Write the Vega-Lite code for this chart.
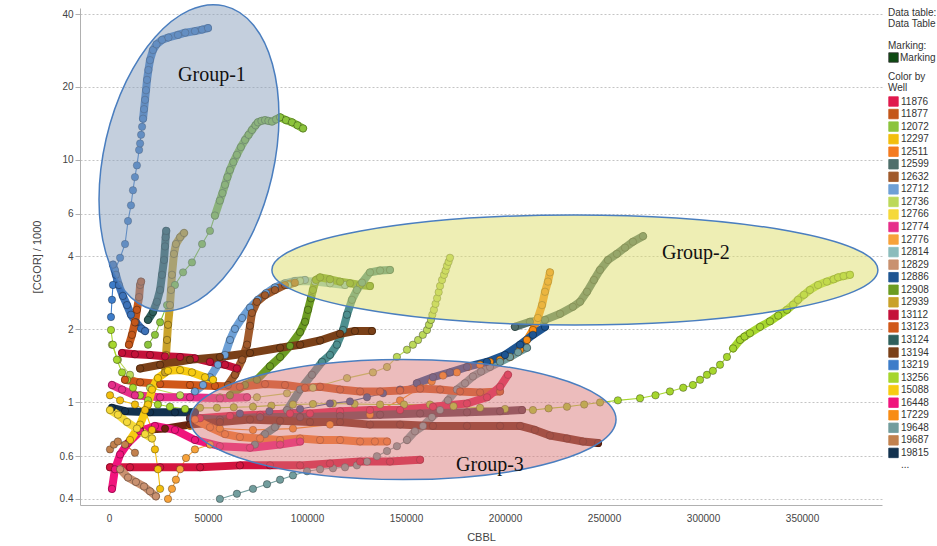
{
"$schema": "https://vega.github.io/schema/vega-lite/v6.json",
"width": 802, "height": 497,
"autosize": {"type": "none"},
"padding": {"left": 80, "top": 8, "right": 55, "bottom": 41},
"background": "white",
"config": {
 "view": {"stroke": null},
 "axis": {"labelFont": "Liberation Sans", "titleFont": "Liberation Sans", "labelFontSize": 10, "titleFontSize": 11, "titleFontWeight": "normal", "labelColor": "#444", "titleColor": "#444", "domainColor": "#b0b0b0"},
 "legend": {"labelFont": "Liberation Sans", "titleFont": "Liberation Sans", "labelFontSize": 10, "titleFontSize": 10, "titleFontWeight": "normal", "titleColor": "#333", "labelColor": "#333", "titleLineHeight": 11, "symbolType": "square", "symbolSize": 90, "symbolStrokeColor": "#333", "symbolStrokeWidth": 0.8, "symbolOpacity": 1, "rowPadding": -0.45, "offset": 6, "padding": 0, "titlePadding": 3, "labelOffset": 2}
},
"datasets": {
 "groups": [
  {"g": "Group-1", "k": "e", "x": 40400, "y": 10.2},
  {"g": "Group-2", "k": "e", "x": 235300, "y": 3.52},
  {"g": "Group-3", "k": "e", "x": 148500, "y": 0.85},
  {"g": "Group-1", "k": "t", "x": 52000, "y": 22.4},
  {"g": "Group-2", "k": "t", "x": 296400, "y": 4.13},
  {"g": "Group-3", "k": "t", "x": 192400, "y": 0.55}
 ],
 "wells": [
  {"w":"13219","x":1000,"y":2.25},{"w":"13219","x":1500,"y":2.65},{"w":"13219","x":2000,"y":3.05},{"w":"13219","x":3000,"y":3.52},{"w":"13219","x":5600,"y":3.95},{"w":"13219","x":8100,"y":4.5},{"w":"13219","x":9600,"y":5.6},{"w":"13219","x":11100,"y":6.5},{"w":"13219","x":12100,"y":7.5},{"w":"13219","x":13100,"y":8.5},{"w":"13219","x":14100,"y":9.5},{"w":"13219","x":15200,"y":11.0},{"w":"13219","x":15700,"y":11.7},{"w":"13219","x":16200,"y":12.7},{"w":"13219","x":16700,"y":13.7},{"w":"13219","x":17200,"y":14.8},{"w":"13219","x":17700,"y":16.2},{"w":"13219","x":18200,"y":17.7},{"w":"13219","x":18700,"y":19.4},{"w":"13219","x":19200,"y":21.4},{"w":"13219","x":19900,"y":23.5},{"w":"13219","x":20700,"y":25.8},{"w":"13219","x":22200,"y":28.4},{"w":"13219","x":24000,"y":30},{"w":"13219","x":26800,"y":31.3},{"w":"13219","x":30000,"y":32},{"w":"13219","x":34800,"y":32.8},{"w":"13219","x":38500,"y":33.5},{"w":"13219","x":43400,"y":34},{"w":"13219","x":47000,"y":34.5},{"w":"13219","x":50000,"y":35},
  {"w":"20640","x":2000,"y":3.7},{"w":"20640","x":3500,"y":3.36},{"w":"20640","x":5000,"y":3.05},{"w":"20640","x":7000,"y":2.75},{"w":"20640","x":9100,"y":2.52},{"w":"20640","x":11100,"y":2.3},{"w":"20640","x":13600,"y":2.14},{"w":"20640","x":16200,"y":2.02},{"w":"20640","x":18200,"y":1.97},
  {"w":"12072","x":19700,"y":1.73},{"w":"12072","x":23200,"y":1.9},{"w":"12072","x":25800,"y":2.14},{"w":"12072","x":29300,"y":2.52},{"w":"12072","x":33300,"y":3.05},{"w":"12072","x":37400,"y":3.44},{"w":"12072","x":41900,"y":3.78},{"w":"12072","x":47000,"y":4.5},{"w":"12072","x":51000,"y":5.1},{"w":"12072","x":53500,"y":5.9},{"w":"12072","x":56000,"y":6.8},{"w":"12072","x":57300,"y":7.3},{"w":"12072","x":58600,"y":7.9},{"w":"12072","x":59800,"y":8.5},{"w":"12072","x":61100,"y":9.1},{"w":"12072","x":62800,"y":9.8},{"w":"12072","x":64600,"y":10.5},{"w":"12072","x":66600,"y":11.3},{"w":"12072","x":68700,"y":12.1},{"w":"12072","x":70500,"y":12.7},{"w":"12072","x":72200,"y":13.3},{"w":"12072","x":74000,"y":13.9},{"w":"12072","x":75200,"y":14.3},{"w":"12072","x":77000,"y":14.5},{"w":"12072","x":78800,"y":14.6},{"w":"12072","x":80500,"y":14.5},{"w":"12072","x":82300,"y":14.4},{"w":"12072","x":84400,"y":14.7},{"w":"12072","x":86400,"y":15.0},{"w":"12072","x":89400,"y":14.6},{"w":"12072","x":92400,"y":14.3},{"w":"12072","x":95200,"y":13.9},{"w":"12072","x":98000,"y":13.5},
  {"w":"13124","x":19700,"y":2.19},{"w":"13124","x":22200,"y":2.36},{"w":"13124","x":24200,"y":2.6},{"w":"13124","x":25800,"y":2.91},{"w":"13124","x":26800,"y":3.36},{"w":"13124","x":27800,"y":3.87},{"w":"13124","x":28300,"y":4.4},{"w":"13124","x":28600,"y":4.8},{"w":"13124","x":28900,"y":5.1},
  {"w":"12939","x":28300,"y":1.33},{"w":"12939","x":28800,"y":1.57},{"w":"12939","x":29300,"y":1.81},{"w":"12939","x":29800,"y":2.09},{"w":"12939","x":30800,"y":2.52},{"w":"12939","x":31300,"y":2.91},{"w":"12939","x":31800,"y":3.36},{"w":"12939","x":32800,"y":4.1},{"w":"12939","x":33800,"y":4.5},{"w":"12939","x":35900,"y":4.8},{"w":"12939","x":37900,"y":5.0},
  {"w":"11877","x":10100,"y":1.73},{"w":"11877","x":11600,"y":1.9},{"w":"11877","x":13100,"y":2.14},{"w":"11877","x":14100,"y":2.41},{"w":"11877","x":15200,"y":2.72},{"w":"11877","x":15700,"y":3.05},{"w":"11877","x":16200,"y":3.15},
  {"w":"12712","x":43400,"y":1.11},{"w":"12712","x":47500,"y":1.18},{"w":"12712","x":51000,"y":1.27},{"w":"12712","x":55000,"y":1.43},{"w":"12712","x":58600,"y":1.57},{"w":"12712","x":61100,"y":1.81},{"w":"12712","x":63600,"y":2.01},{"w":"12712","x":67200,"y":2.23},{"w":"12712","x":71200,"y":2.46},{"w":"12712","x":75200,"y":2.65},{"w":"12712","x":79300,"y":2.82},{"w":"12712","x":83800,"y":2.98},{"w":"12712","x":88900,"y":3.1},{"w":"12712","x":93900,"y":3.17},{"w":"12712","x":99000,"y":3.2},
  {"w":"12814","x":90400,"y":3.05},{"w":"12814","x":96500,"y":3.17},{"w":"12814","x":104000,"y":3.15},{"w":"12814","x":111600,"y":3.1},{"w":"12814","x":119200,"y":3.05},
  {"w":"12632","x":60100,"y":1.18},{"w":"12632","x":63600,"y":1.3},{"w":"12632","x":67200,"y":1.5},{"w":"12632","x":69700,"y":1.73},{"w":"12632","x":71200,"y":2.07},{"w":"12632","x":72200,"y":2.34},{"w":"12632","x":74700,"y":2.6},{"w":"12632","x":78800,"y":2.77},{"w":"12632","x":83800,"y":2.91},{"w":"12632","x":88900,"y":3.05},{"w":"12632","x":93900,"y":3.12},
  {"w":"12908","x":61100,"y":1.07},{"w":"12908","x":68700,"y":1.18},{"w":"12908","x":74700,"y":1.24},{"w":"12908","x":81300,"y":1.41},{"w":"12908","x":86400,"y":1.54},{"w":"12908","x":91400,"y":1.71},{"w":"12908","x":96500,"y":1.95},{"w":"12908","x":99000,"y":2.15},{"w":"12908","x":100500,"y":2.41},{"w":"12908","x":102000,"y":2.69},{"w":"12908","x":103000,"y":2.91},{"w":"12908","x":104500,"y":3.2},{"w":"12908","x":106600,"y":3.28},{"w":"12908","x":111600,"y":3.22},{"w":"12908","x":116700,"y":3.15},{"w":"12908","x":121700,"y":3.1},{"w":"12908","x":126800,"y":3.05},{"w":"12908","x":131800,"y":3.02},
  {"w":"20117","x":73700,"y":0.67},{"w":"20117","x":78800,"y":0.74},{"w":"20117","x":83800,"y":0.79},{"w":"20117","x":89900,"y":0.93},{"w":"20117","x":96500,"y":1.13},{"w":"20117","x":102500,"y":1.3},{"w":"20117","x":107600,"y":1.47},{"w":"20117","x":111600,"y":1.57},{"w":"20117","x":115100,"y":1.73},{"w":"20117","x":118200,"y":1.99},{"w":"20117","x":120200,"y":2.3},{"w":"20117","x":122700,"y":2.65},{"w":"20117","x":125200,"y":2.91},{"w":"20117","x":127800,"y":3.12},{"w":"20117","x":131800,"y":3.44},{"w":"20117","x":136900,"y":3.5},{"w":"20117","x":141900,"y":3.52},
  {"w":"12736","x":1500,"y":1.73},{"w":"12736","x":4500,"y":1.5},{"w":"12736","x":10600,"y":1.3},{"w":"12736","x":20700,"y":1.15},{"w":"12736","x":35900,"y":1.07},{"w":"12736","x":56000,"y":1.05},{"w":"12736","x":74700,"y":1.05},{"w":"12736","x":89900,"y":1.09},{"w":"12736","x":103000,"y":1.15},{"w":"12736","x":120200,"y":1.26},{"w":"12736","x":133300,"y":1.33},{"w":"12736","x":140400,"y":1.4},{"w":"12736","x":145400,"y":1.54},{"w":"12736","x":150500,"y":1.65},{"w":"12736","x":153500,"y":1.73},{"w":"12736","x":156100,"y":1.81},{"w":"12736","x":158500,"y":1.9},{"w":"12736","x":160600,"y":1.99},{"w":"12736","x":161600,"y":2.09},{"w":"12736","x":162600,"y":2.19},{"w":"12736","x":163300,"y":2.3},{"w":"12736","x":164100,"y":2.41},{"w":"12736","x":164900,"y":2.55},{"w":"12736","x":165700,"y":2.69},{"w":"12736","x":166500,"y":2.85},{"w":"12736","x":167200,"y":3.02},{"w":"12736","x":168200,"y":3.2},{"w":"12736","x":169200,"y":3.36},{"w":"12736","x":170000,"y":3.5},{"w":"12736","x":170700,"y":3.66},{"w":"12736","x":171500,"y":3.8},{"w":"12736","x":172200,"y":3.95},
  {"w":"12599","x":205000,"y":2.05},{"w":"12599","x":212600,"y":2.15},{"w":"12599","x":220200,"y":2.19},{"w":"12599","x":227800,"y":2.32},{"w":"12599","x":234300,"y":2.48},{"w":"12599","x":237900,"y":2.6},{"w":"12599","x":241400,"y":2.86},{"w":"12599","x":244900,"y":3.2},{"w":"12599","x":248000,"y":3.52},{"w":"12599","x":252000,"y":3.87},{"w":"12599","x":256500,"y":4.1},{"w":"12599","x":260600,"y":4.35},{"w":"12599","x":264600,"y":4.6},{"w":"12599","x":269700,"y":4.85},
  {"w":"17229","x":40900,"y":0.8},{"w":"17229","x":56000,"y":0.78},{"w":"17229","x":72700,"y":0.77},{"w":"17229","x":92900,"y":0.78},{"w":"17229","x":111600,"y":0.81},{"w":"17229","x":131800,"y":0.89},{"w":"17229","x":147000,"y":1.02},{"w":"17229","x":157100,"y":1.15},{"w":"17229","x":163000,"y":1.22},{"w":"17229","x":168700,"y":1.29},{"w":"17229","x":175700,"y":1.33},{"w":"17229","x":181300,"y":1.4},{"w":"17229","x":187400,"y":1.43},{"w":"17229","x":192400,"y":1.47},{"w":"17229","x":197500,"y":1.5},{"w":"17229","x":202500,"y":1.54},{"w":"17229","x":207600,"y":1.65},{"w":"17229","x":211100,"y":1.81},{"w":"17229","x":214100,"y":1.99},{"w":"17229","x":216600,"y":2.23},{"w":"17229","x":218700,"y":2.52},{"w":"17229","x":220200,"y":2.86},{"w":"17229","x":221700,"y":3.15},{"w":"17229","x":222700,"y":3.44},
  {"w":"13256","x":1000,"y":1.99},{"w":"13256","x":2000,"y":1.73},{"w":"13256","x":4000,"y":1.5},{"w":"13256","x":6600,"y":1.33},{"w":"13256","x":9100,"y":1.24},{"w":"13256","x":12100,"y":1.15},{"w":"13256","x":15700,"y":1.07},{"w":"13256","x":19700,"y":1.02},{"w":"13256","x":24700,"y":0.98},{"w":"13256","x":30800,"y":0.96},{"w":"13256","x":38400,"y":0.94},{"w":"13256","x":46000,"y":0.95},{"w":"13256","x":54500,"y":0.95},{"w":"13256","x":63000,"y":0.955},{"w":"13256","x":72700,"y":0.96},{"w":"13256","x":82000,"y":0.97},{"w":"13256","x":92900,"y":0.98},{"w":"13256","x":103000,"y":0.985},{"w":"13256","x":113100,"y":0.99},{"w":"13256","x":124000,"y":0.985},{"w":"13256","x":136900,"y":0.98},{"w":"13256","x":149000,"y":0.98},{"w":"13256","x":162100,"y":0.98},{"w":"13256","x":174000,"y":0.965},{"w":"13256","x":187400,"y":0.95},{"w":"13256","x":200000,"y":0.94},{"w":"13256","x":214100,"y":0.93},{"w":"13256","x":222000,"y":0.945},{"w":"13256","x":231300,"y":0.96},{"w":"13256","x":240000,"y":0.98},{"w":"13256","x":248000,"y":1.0},{"w":"13256","x":257000,"y":1.02},{"w":"13256","x":268200,"y":1.04},{"w":"13256","x":276000,"y":1.07},{"w":"13256","x":283300,"y":1.11},{"w":"13256","x":290000,"y":1.15},{"w":"13256","x":294900,"y":1.18},{"w":"13256","x":298500,"y":1.24},{"w":"13256","x":302000,"y":1.3},{"w":"13256","x":305000,"y":1.35},{"w":"13256","x":308600,"y":1.43},{"w":"13256","x":312100,"y":1.54},{"w":"13256","x":315200,"y":1.67},{"w":"13256","x":318700,"y":1.81},{"w":"13256","x":321000,"y":1.87},{"w":"13256","x":323700,"y":1.93},{"w":"13256","x":328800,"y":2.05},{"w":"13256","x":333800,"y":2.16},{"w":"13256","x":338000,"y":2.28},{"w":"13256","x":342400,"y":2.41},{"w":"13256","x":345500,"y":2.53},{"w":"13256","x":348000,"y":2.65},{"w":"13256","x":351000,"y":2.78},{"w":"13256","x":354000,"y":2.91},{"w":"13256","x":358100,"y":3.05},{"w":"13256","x":362600,"y":3.15},{"w":"13256","x":366000,"y":3.22},{"w":"13256","x":368200,"y":3.28},{"w":"13256","x":371000,"y":3.32},{"w":"13256","x":374200,"y":3.36},
  {"w":"19648","x":56000,"y":0.4},{"w":"19648","x":64600,"y":0.42},{"w":"19648","x":72700,"y":0.44},{"w":"19648","x":79800,"y":0.46},{"w":"19648","x":86400,"y":0.48},{"w":"19648","x":92900,"y":0.5},{"w":"19648","x":100000,"y":0.52},{"w":"19648","x":106600,"y":0.53},{"w":"19648","x":113100,"y":0.535},{"w":"19648","x":119200,"y":0.54},{"w":"19648","x":125200,"y":0.55},{"w":"19648","x":130300,"y":0.57},{"w":"19648","x":135300,"y":0.6},{"w":"19648","x":140400,"y":0.63},{"w":"19648","x":145400,"y":0.66},{"w":"19648","x":150500,"y":0.7},{"w":"19648","x":154500,"y":0.76},{"w":"19648","x":158600,"y":0.8},{"w":"19648","x":163100,"y":0.87},{"w":"19648","x":167200,"y":0.93},{"w":"19648","x":171200,"y":1.02},{"w":"19648","x":175700,"y":1.13},{"w":"19648","x":179800,"y":1.2},{"w":"19648","x":183800,"y":1.28},{"w":"19648","x":187900,"y":1.34},{"w":"19648","x":192400,"y":1.4},{"w":"19648","x":197500,"y":1.47},{"w":"19648","x":202500,"y":1.54},{"w":"19648","x":206600,"y":1.61},{"w":"19648","x":211100,"y":1.68},
  {"w":"19815","x":1500,"y":0.95},{"w":"19815","x":8100,"y":0.92},{"w":"19815","x":20700,"y":0.91},{"w":"19815","x":33300,"y":0.91},{"w":"19815","x":43400,"y":0.91},
  {"w":"12886","x":66100,"y":0.9},{"w":"12886","x":81000,"y":0.92},{"w":"12886","x":96500,"y":0.94},{"w":"12886","x":111600,"y":0.99},{"w":"12886","x":121700,"y":1.01},{"w":"12886","x":130300,"y":1.05},{"w":"12886","x":138400,"y":1.09},{"w":"12886","x":147000,"y":1.13},{"w":"12886","x":155500,"y":1.2},{"w":"12886","x":163600,"y":1.27},{"w":"12886","x":172200,"y":1.33},{"w":"12886","x":180800,"y":1.4},{"w":"12886","x":190900,"y":1.47},{"w":"12886","x":200000,"y":1.57},{"w":"12886","x":207600,"y":1.73},{"w":"12886","x":214100,"y":1.9},{"w":"12886","x":220200,"y":2.05},
  {"w":"13123","x":8100,"y":1.24},{"w":"13123","x":15700,"y":1.21},{"w":"13123","x":25800,"y":1.19},{"w":"13123","x":40900,"y":1.18},{"w":"13123","x":53500,"y":1.17},{"w":"13123","x":66100,"y":1.16},{"w":"13123","x":78800,"y":1.19},{"w":"13123","x":88900,"y":1.18},{"w":"13123","x":99000,"y":1.15},{"w":"13123","x":106600,"y":1.16},{"w":"13123","x":116700,"y":1.13},{"w":"13123","x":126800,"y":1.11},{"w":"13123","x":136900,"y":1.11},{"w":"13123","x":147000,"y":1.12},{"w":"13123","x":157100,"y":1.14},{"w":"13123","x":167200,"y":1.13},{"w":"13123","x":177300,"y":1.11},{"w":"13123","x":187400,"y":1.1},{"w":"13123","x":197500,"y":1.11},
  {"w":"11876","x":46000,"y":0.86},{"w":"11876","x":61100,"y":0.88},{"w":"11876","x":76300,"y":0.89},{"w":"11876","x":91400,"y":0.9},{"w":"11876","x":101500,"y":0.9},{"w":"11876","x":116700,"y":0.92},{"w":"11876","x":131800,"y":0.93},{"w":"11876","x":147000,"y":0.93},{"w":"11876","x":163600,"y":0.96},{"w":"11876","x":180800,"y":0.99},{"w":"11876","x":190900,"y":1.05},{"w":"11876","x":197500,"y":1.16},{"w":"11876","x":201500,"y":1.3},
  {"w":"20215","x":40900,"y":0.86},{"w":"20215","x":56000,"y":0.85},{"w":"20215","x":76300,"y":0.87},{"w":"20215","x":96500,"y":0.87},{"w":"20215","x":116700,"y":0.88},{"w":"20215","x":136900,"y":0.89},{"w":"20215","x":157100,"y":0.9},{"w":"20215","x":180800,"y":0.91},{"w":"20215","x":197500,"y":0.92},{"w":"20215","x":208600,"y":0.93},
  {"w":"20338","x":15700,"y":0.77},{"w":"20338","x":28300,"y":0.78},{"w":"20338","x":40900,"y":0.81},{"w":"20338","x":56000,"y":0.83},{"w":"20338","x":71200,"y":0.85},{"w":"20338","x":86400,"y":0.84},{"w":"20338","x":101500,"y":0.83},{"w":"20338","x":116700,"y":0.83},{"w":"20338","x":131800,"y":0.81},{"w":"20338","x":147000,"y":0.81},{"w":"20338","x":163600,"y":0.8},{"w":"20338","x":180800,"y":0.8},{"w":"20338","x":197500,"y":0.8},{"w":"20338","x":207600,"y":0.8},{"w":"20338","x":215100,"y":0.77},{"w":"20338","x":222700,"y":0.73},{"w":"20338","x":231300,"y":0.71},{"w":"20338","x":239400,"y":0.69},{"w":"20338","x":247000,"y":0.68},
  {"w":"12511","x":43400,"y":0.85},{"w":"12511","x":51000,"y":0.79},{"w":"12511","x":58600,"y":0.74},{"w":"12511","x":66100,"y":0.72},{"w":"12511","x":76300,"y":0.71},{"w":"12511","x":86400,"y":0.7},{"w":"12511","x":96500,"y":0.71},{"w":"12511","x":106600,"y":0.7},{"w":"12511","x":116700,"y":0.7},{"w":"12511","x":126800,"y":0.69},{"w":"12511","x":134300,"y":0.69},{"w":"12511","x":140400,"y":0.69},
  {"w":"20502","x":500,"y":0.54},{"w":"20502","x":10600,"y":0.54},{"w":"20502","x":25800,"y":0.54},{"w":"20502","x":46000,"y":0.54},{"w":"20502","x":66100,"y":0.55},{"w":"20502","x":81300,"y":0.55},{"w":"20502","x":96500,"y":0.55},{"w":"20502","x":111600,"y":0.56},{"w":"20502","x":126800,"y":0.57},{"w":"20502","x":141900,"y":0.57},{"w":"20502","x":157100,"y":0.58},
  {"w":"13112","x":6600,"y":1.6},{"w":"13112","x":13100,"y":1.58},{"w":"13112","x":20700,"y":1.57},{"w":"13112","x":28300,"y":1.55},{"w":"13112","x":35900,"y":1.54},{"w":"13112","x":43400,"y":1.52},{"w":"13112","x":51000,"y":1.47},{"w":"13112","x":58600,"y":1.43},{"w":"13112","x":64600,"y":1.38},
  {"w":"13194","x":15700,"y":1.38},{"w":"13194","x":25800,"y":1.43},{"w":"13194","x":40900,"y":1.5},{"w":"13194","x":56000,"y":1.54},{"w":"13194","x":71200,"y":1.6},{"w":"13194","x":86400,"y":1.68},{"w":"13194","x":96500,"y":1.73},{"w":"13194","x":106600,"y":1.8},{"w":"13194","x":116700,"y":1.92},{"w":"13194","x":124200,"y":1.97},{"w":"13194","x":132800,"y":1.97},
  {"w":"16448","x":1500,"y":0.44},{"w":"16448","x":3000,"y":0.53},{"w":"16448","x":5600,"y":0.61},{"w":"16448","x":9600,"y":0.68},{"w":"16448","x":15700,"y":0.76},{"w":"16448","x":23200,"y":0.8},{"w":"16448","x":33300,"y":0.77},{"w":"16448","x":43400,"y":0.7},{"w":"16448","x":56000,"y":0.66},{"w":"16448","x":71200,"y":0.65},{"w":"16448","x":86400,"y":0.67},{"w":"16448","x":96500,"y":0.69},
  {"w":"12774","x":1500,"y":1.18},{"w":"12774","x":6600,"y":1.13},{"w":"12774","x":13100,"y":1.07},{"w":"12774","x":25800,"y":1.05},{"w":"12774","x":40900,"y":1.05},{"w":"12774","x":56000,"y":1.04},{"w":"12774","x":69700,"y":1.05},
  {"w":"15088","x":10600,"y":0.7},{"w":"15088","x":15700,"y":0.81},{"w":"15088","x":19700,"y":0.98},{"w":"15088","x":21700,"y":1.13},{"w":"15088","x":24700,"y":1.26},{"w":"15088","x":29800,"y":1.35},{"w":"15088","x":35900,"y":1.36},{"w":"15088","x":41900,"y":1.33},{"w":"15088","x":48500,"y":1.27},{"w":"15088","x":52500,"y":1.24},
  {"w":"12766","x":500,"y":0.93},{"w":"12766","x":4500,"y":0.89},{"w":"12766","x":9100,"y":0.83},{"w":"12766","x":14100,"y":0.78},{"w":"12766","x":18200,"y":0.74},{"w":"12766","x":21700,"y":0.71},
  {"w":"12297","x":500,"y":1.07},{"w":"12297","x":5600,"y":1.02},{"w":"12297","x":13100,"y":0.98},{"w":"12297","x":18200,"y":0.93},{"w":"12297","x":21700,"y":0.77},{"w":"12297","x":23200,"y":0.64},{"w":"12297","x":24700,"y":0.53},{"w":"12297","x":25800,"y":0.44},
  {"w":"12776","x":29800,"y":0.4},{"w":"12776","x":31800,"y":0.44},{"w":"12776","x":33800,"y":0.48},{"w":"12776","x":35900,"y":0.53},{"w":"12776","x":38900,"y":0.59},{"w":"12776","x":43400,"y":0.64},{"w":"12776","x":51000,"y":0.67},
  {"w":"12829","x":5600,"y":0.53},{"w":"12829","x":9600,"y":0.49},{"w":"12829","x":13600,"y":0.47},{"w":"12829","x":17700,"y":0.45},{"w":"12829","x":20700,"y":0.43},{"w":"12829","x":23700,"y":0.41},
  {"w":"19687","x":500,"y":0.64},{"w":"19687","x":2500,"y":0.67},{"w":"19687","x":4500,"y":0.69},{"w":"19687","x":8100,"y":0.67},{"w":"19687","x":13100,"y":0.62}
 ]
},
"encoding": {
 "x": {"field": "x", "type": "quantitative", "title": "CBBL",
  "scale": {"domain": [-14650, 390400], "nice": false, "zero": false},
  "axis": {"values": [0, 50000, 100000, 150000, 200000, 250000, 300000, 350000], "format": "d", "grid": false, "ticks": false, "labelPadding": 8, "titlePadding": 8}},
 "y": {"field": "y", "type": "quantitative", "title": "[CGOR] / 1000",
  "scale": {"type": "log", "domain": [0.3775, 42.35], "nice": false},
  "axis": {"values": [0.4, 0.6, 1, 2, 4, 6, 10, 20, 40], "format": "~g", "grid": true, "gridDash": [2, 2], "gridColor": "#c4c4c4", "tickSize": 5, "tickColor": "#b0b0b0", "labelPadding": 2, "titlePadding": 17}}
},
"layer": [
 {"data": {"values": [{"m": "Marking", "x": 0, "y": 1}]},
  "mark": {"type": "square", "opacity": 0},
  "encoding": {"fill": {"field": "m", "type": "nominal", "scale": {"range": ["#0d4a12"]},
   "legend": {"title": ["Data table:", "Data Table", "\u2800", "Marking:"], "titlePadding": 1, "symbolOpacity": 1, "symbolStrokeColor": "#333", "labelOffset": 1}}}},
 {"data": {"name": "wells"},
  "mark": {"type": "line", "strokeWidth": 1.1},
  "encoding": {"color": {"field": "w", "type": "nominal"}}},
 {"data": {"name": "wells"},
  "transform": [{"filter": "indexof(['20640','13124','12939','11877','12712','12814','12632','12908','20117','12599','13123','11876','20215','20338','12511','20502','13112','13194','16448','12774','15088','12766','12829','19815'], datum.w) >= 0 || (datum.w == '13219' && datum.y > 14) || (datum.w == '12072' && datum.y > 5.5) || (datum.w == '13256' && datum.x >= 315000) || (datum.w == '19648' && datum.x >= 150000) || (datum.w == '17229' && datum.x >= 200000) || (datum.w == '12886' && datum.x >= 150000)"}],
  "mark": {"type": "line", "strokeWidth": 8, "strokeCap": "round", "strokeJoin": "round"},
  "encoding": {"color": {"field": "w", "type": "nominal"}}},
 {"data": {"name": "wells"},
  "mark": {"type": "point", "filled": true, "size": 55, "opacity": 1, "stroke": "#000", "strokeOpacity": 0.4, "strokeWidth": 0.8},
  "encoding": {"color": {"field": "w", "type": "nominal",
   "scale": {"domain": ["11876","11877","12072","12297","12511","12599","12632","12712","12736","12766","12774","12776","12814","12829","12886","12908","12939","13112","13123","13124","13194","13219","13256","15088","16448","17229","19648","19687","19815","20117","20215","20338","20502","20640","..."],
    "range": ["#e0194d","#c4571a","#8cc43c","#f2be0e","#f47b20","#4f6e6b","#a05a2c","#6ea0d6","#bcd95a","#f5d93a","#e62e8a","#f7a23a","#8bbcbc","#c99170","#1e5592","#6c9c22","#c9a22a","#c4123a","#d0581a","#2f5f5c","#7a4018","#3d7cc9","#a6d62e","#f7cb12","#f0147c","#f88c14","#729d9d","#c2814e","#13324f","#4d8f8f","#5c3a48","#6e2610","#d3143f","#3d72b8","#ffffff"]},
   "legend": {"title": ["Color by", "Well"],
    "values": ["11876","11877","12072","12297","12511","12599","12632","12712","12736","12766","12774","12776","12814","12829","12886","12908","12939","13112","13123","13124","13194","13219","13256","15088","16448","17229","19648","19687","19815","..."],
    "encode": {"symbols": {"update": {"fill": {"scale": "color", "field": "value"}, "stroke": {"value": "#333"}, "strokeWidth": {"value": 0.8}, "opacity": {"signal": "datum.value === '...' ? 0 : 1"}}}}}}}},
 {"data": {"name": "groups"}, "transform": [{"filter": "datum.k == 'e' && datum.g == 'Group-1'"}],
  "mark": {"type": "point", "shape": "M0,-1 C0.301,-1 0.545,-0.5523 0.545,0 C0.545,0.5523 0.301,1 0,1 C-0.301,1 -0.545,0.5523 -0.545,0 C-0.545,-0.5523 -0.301,-1 0,-1 Z", "size": 97344, "angle": 13, "filled": true, "fill": "#8a9fbc", "fillOpacity": 0.5, "opacity": 1, "stroke": "#4a7ebf", "strokeWidth": 1.5, "strokeOpacity": 1}},
 {"data": {"name": "groups"}, "transform": [{"filter": "datum.k == 'e' && datum.g == 'Group-2'"}],
  "mark": {"type": "point", "shape": "M0,-0.1815 C0.5523,-0.1815 1,-0.1002 1,0 C1,0.1002 0.5523,0.1815 0,0.1815 C-0.5523,0.1815 -1,0.1002 -1,0 C-1,-0.1002 -0.5523,-0.1815 0,-0.1815 Z", "size": 367236, "angle": 0, "filled": true, "fill": "#dddd69", "fillOpacity": 0.5, "opacity": 1, "stroke": "#4a7ebf", "strokeWidth": 1.5, "strokeOpacity": 1}},
 {"data": {"name": "groups"}, "transform": [{"filter": "datum.k == 'e' && datum.g == 'Group-3'"}],
  "mark": {"type": "point", "shape": "M0,-0.282 C0.5523,-0.282 1,-0.1557 1,0 C1,0.1557 0.5523,0.282 0,0.282 C-0.5523,0.282 -1,0.1557 -1,0 C-1,-0.1557 -0.5523,-0.282 0,-0.282 Z", "size": 181476, "angle": 0, "filled": true, "fill": "#d97979", "fillOpacity": 0.5, "opacity": 1, "stroke": "#4a7ebf", "strokeWidth": 1.5, "strokeOpacity": 1}},
 {"data": {"name": "groups"}, "transform": [{"filter": "datum.k == 't'"}],
  "mark": {"type": "text", "font": "Liberation Serif", "fontSize": 20, "color": "#111", "align": "center", "baseline": "middle"},
  "encoding": {"text": {"field": "g", "type": "nominal"}}}
]
}
